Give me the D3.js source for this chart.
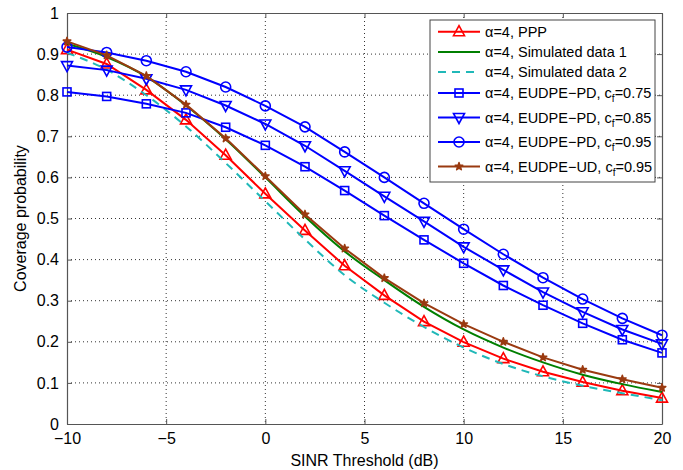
<!DOCTYPE html>
<html>
<head>
<meta charset="utf-8">
<script src="https://cdn.jsdelivr.net/npm/d3@7"></script>
<style>
  body { margin: 0; background: #fff; }
  svg text { font-family: "Liberation Sans", Arial, sans-serif; fill: #000; }
</style>
</head>
<body>
<svg id="chart" width="683" height="470"></svg>
<script>
// values (x in dB, every 2 dB)
var snrDb = [-10, -8, -6, -4, -2, 0, 2, 4, 6, 8, 10, 12, 14, 16, 18, 20];

var ppp   = [0.911, 0.876, 0.813, 0.740, 0.654, 0.560, 0.471, 0.385, 0.313, 0.249, 0.199, 0.159, 0.127, 0.102, 0.081, 0.063];
var sim1  = [0.925, 0.893, 0.845, 0.775, 0.693, 0.600, 0.505, 0.420, 0.350, 0.285, 0.230, 0.186, 0.150, 0.120, 0.097, 0.078];
var sim2  = [0.903, 0.862, 0.800, 0.724, 0.635, 0.542, 0.449, 0.362, 0.295, 0.236, 0.186, 0.146, 0.116, 0.093, 0.075, 0.058];
var pd075 = [0.808, 0.797, 0.779, 0.757, 0.722, 0.678, 0.626, 0.568, 0.507, 0.448, 0.391, 0.337, 0.289, 0.245, 0.205, 0.173];
var pd085 = [0.872, 0.861, 0.840, 0.813, 0.775, 0.730, 0.677, 0.616, 0.554, 0.493, 0.431, 0.375, 0.321, 0.273, 0.230, 0.195];
var pd095 = [0.917, 0.904, 0.884, 0.857, 0.820, 0.774, 0.723, 0.662, 0.600, 0.537, 0.474, 0.413, 0.356, 0.304, 0.257, 0.216];
var ud095 = [0.931, 0.897, 0.847, 0.777, 0.695, 0.603, 0.510, 0.427, 0.355, 0.294, 0.243, 0.200, 0.162, 0.132, 0.109, 0.088];

var xTicks = [-10, -5, 0, 5, 10, 15, 20];
var yTicks = [0, 0.1, 0.2, 0.3, 0.4, 0.5, 0.6, 0.7, 0.8, 0.9, 1];

var series = [
  {name: "PPP", vals: ppp, color: "#ff0000", marker: "triUp", dash: null, curve: d3.curveLinear},
  {name: "Simulated data 1", vals: sim1, color: "#007f00", marker: null, dash: null, curve: d3.curveMonotoneX},
  {name: "Simulated data 2", vals: sim2, color: "#20b8b8", marker: null, dash: "8,6", curve: d3.curveMonotoneX},
  {name: "EUDPE\u2212PD, ", sub: "0.75", vals: pd075, color: "#0000ff", marker: "square", dash: null, curve: d3.curveLinear},
  {name: "EUDPE\u2212PD, ", sub: "0.85", vals: pd085, color: "#0000ff", marker: "triDown", dash: null, curve: d3.curveLinear},
  {name: "EUDPE\u2212PD, ", sub: "0.95", vals: pd095, color: "#0000ff", marker: "circle", dash: null, curve: d3.curveLinear},
  {name: "EUDPE\u2212UD, ", sub: "0.95", vals: ud095, color: "#9a3a10", marker: "star", dash: null, curve: d3.curveLinear}
];

var svg = d3.select("#chart");
var margin = {top: 13, right: 21, bottom: 46, left: 67};
var W = 683 - margin.left - margin.right,
    H = 470 - margin.top - margin.bottom;

var x = d3.scaleLinear().domain([-10, 20]).range([0, W]);
var y = d3.scaleLinear().domain([0, 1]).range([H, 0]);

var g = svg.append("g").attr("transform", "translate(" + margin.left + "," + margin.top + ")");

// dotted grid
g.append("g").selectAll("line").data(xTicks.slice(1, -1)).enter().append("line")
  .attr("x1", function(d) { return x(d); }).attr("x2", function(d) { return x(d); })
  .attr("y1", 0).attr("y2", H)
  .attr("stroke", "#333").attr("stroke-width", 1).attr("stroke-dasharray", "1,3");
g.append("g").selectAll("line").data(yTicks.slice(1, -1)).enter().append("line")
  .attr("y1", function(d) { return y(d); }).attr("y2", function(d) { return y(d); })
  .attr("x1", 0).attr("x2", W)
  .attr("stroke", "#333").attr("stroke-width", 1).attr("stroke-dasharray", "1,3");

// axes, ticks pointing inward on all four sides
function fmtMinus(d) { return d < 0 ? "\u2212" + Math.abs(d) : String(d); }
var xAxis = g.append("g").attr("transform", "translate(0," + H + ")")
  .call(d3.axisBottom(x).tickValues(xTicks).tickSizeInner(-5).tickSizeOuter(0).tickPadding(9).tickFormat(fmtMinus));
var yAxis = g.append("g")
  .call(d3.axisLeft(y).tickValues(yTicks).tickSizeInner(-5).tickSizeOuter(0).tickPadding(8).tickFormat(function(d) { return d3.format("")(+d.toFixed(1)); }));
var xTop = g.append("g").call(d3.axisTop(x).tickValues(xTicks).tickSizeInner(-5).tickSizeOuter(0).tickFormat(""));
var yRight = g.append("g").attr("transform", "translate(" + W + ",0)")
  .call(d3.axisRight(y).tickValues(yTicks).tickSizeInner(-5).tickSizeOuter(0).tickFormat(""));

[xAxis, yAxis, xTop, yRight].forEach(function(a) {
  a.selectAll("path").attr("stroke", "#555").attr("stroke-width", 1.2);
  a.selectAll("line").attr("stroke", "#555");
  a.selectAll("text").attr("font-size", 16).style("font-family", "Liberation Sans, Arial, sans-serif");
});

// axis titles
svg.append("text").attr("x", margin.left + W / 2).attr("y", 466)
  .attr("text-anchor", "middle").attr("font-size", 16).text("SINR Threshold (dB)");
svg.append("text").attr("transform", "translate(26," + (margin.top + H / 2) + ") rotate(-90)")
  .attr("text-anchor", "middle").attr("font-size", 16).text("Coverage probability");

// markers
function drawMarker(sel, type, color) {
  if (type === "circle") {
    sel.append("circle").attr("r", 5).attr("fill", "none").attr("stroke", color).attr("stroke-width", 1.6);
  } else if (type === "square") {
    sel.append("rect").attr("x", -4).attr("y", -4).attr("width", 8).attr("height", 8)
      .attr("fill", "none").attr("stroke", color).attr("stroke-width", 1.6);
  } else if (type === "triUp") {
    sel.append("path").attr("d", "M0,-6L5.5,4L-5.5,4Z").attr("fill", "none").attr("stroke", color).attr("stroke-width", 1.6);
  } else if (type === "triDown") {
    sel.append("path").attr("d", "M0,6L5.5,-4L-5.5,-4Z").attr("fill", "none").attr("stroke", color).attr("stroke-width", 1.6);
  } else if (type === "star") {
    sel.append("path").attr("d", d3.symbol().type(d3.symbolStar).size(18)())
      .attr("fill", color).attr("stroke", color).attr("stroke-width", 1.5).attr("stroke-linejoin", "round");
  }
}

var plot = g.append("g");
series.forEach(function(s) {
  var line = d3.line()
    .x(function(d, i) { return x(snrDb[i]); })
    .y(function(d) { return y(d); })
    .curve(s.curve);
  plot.append("path").datum(s.vals)
    .attr("d", line)
    .attr("fill", "none")
    .attr("stroke", s.color)
    .attr("stroke-width", 2)
    .attr("stroke-dasharray", s.dash);
  if (s.marker) {
    plot.append("g").selectAll("g").data(s.vals).enter().append("g")
      .attr("transform", function(d, i) { return "translate(" + x(snrDb[i]) + "," + y(d) + ")"; })
      .each(function() { drawMarker(d3.select(this), s.marker, s.color); });
  }
});

// legend
var rowY = [31.7, 52, 72, 93, 117.5, 142, 166.5];
var legend = svg.append("g");
legend.append("rect").attr("x", 430).attr("y", 20).attr("width", 225).attr("height", 162)
  .attr("fill", "#fff").attr("stroke", "#444").attr("stroke-width", 1);

series.forEach(function(s, i) {
  var row = legend.append("g").attr("transform", "translate(0," + rowY[i] + ")");
  row.append("line").attr("x1", 438).attr("x2", 480).attr("y1", 0).attr("y2", 0)
    .attr("stroke", s.color).attr("stroke-width", 2).attr("stroke-dasharray", s.dash);
  if (s.marker) {
    drawMarker(row.append("g").attr("transform", "translate(459,0)"), s.marker, s.color);
  }
  var t = row.append("text").attr("x", 485).attr("y", 5).attr("font-size", 14.5);
  t.append("tspan").text("\u03b1=4, " + s.name);
  if (s.sub) {
    t.append("tspan").text("c");
    t.append("tspan").attr("dy", 4).attr("font-size", 10).text("f");
    t.append("tspan").attr("dy", -4).text("=" + s.sub);
  }
});
</script>
</body>
</html>
